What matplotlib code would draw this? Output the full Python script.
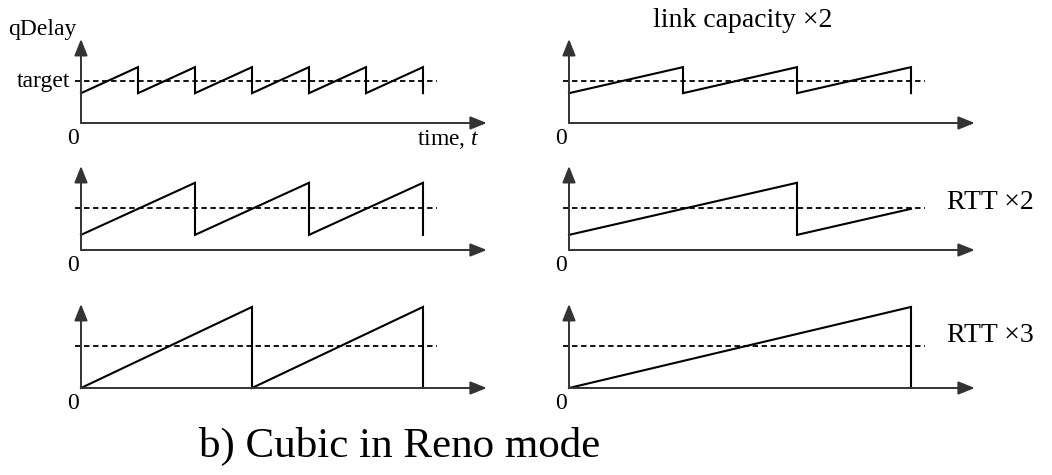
import matplotlib
matplotlib.use('Agg')
import matplotlib.pyplot as plt

plt.rcParams['font.family'] = ['Liberation Serif', 'DejaVu Serif']
plt.rcParams['mathtext.fontset'] = 'custom'
plt.rcParams['mathtext.rm'] = 'Liberation Serif'
plt.rcParams['mathtext.it'] = 'Liberation Serif:italic'

# ── data: time in units of one Reno cycle, qDelay relative to target ─────────
TARGET = 1.0

t_base     = [0, 1, 1, 2, 2, 3, 3, 4, 4, 5, 5, 6, 6]
q_base     = [0.71, 1.33, 0.71, 1.33, 0.71, 1.33, 0.71, 1.33, 0.71, 1.33, 0.71, 1.33, 0.71]

t_cap2     = [0, 2, 2, 4, 4, 6, 6]
q_cap2     = [0.71, 1.33, 0.71, 1.33, 0.71, 1.33, 0.71]

t_rtt2_l   = [0, 2, 2, 4, 4, 6, 6]
q_rtt2_l   = [0.36, 1.60, 0.36, 1.60, 0.36, 1.60, 0.36]

t_rtt2_r   = [0, 4, 4, 6]
q_rtt2_r   = [0.36, 1.60, 0.36, 0.98]

t_rtt3_l   = [0, 3, 3, 6, 6]
q_rtt3_l   = [0.0, 1.93, 0.0, 1.93, 0.0]

t_rtt3_r   = [0, 6, 6]
q_rtt3_r   = [0.0, 1.93, 0.0]

panels = [
    (t_base, q_base), (t_cap2, q_cap2),
    (t_rtt2_l, q_rtt2_l), (t_rtt2_r, q_rtt2_r),
    (t_rtt3_l, q_rtt3_l), (t_rtt3_r, q_rtt3_r),
]

# ── layout (pixels on a 1052x475 canvas) ─────────────────────────────────────
W, H = 1052, 475
PX_T, PX_Q = 57.0, 42.0          # pixels per time unit / per qDelay unit
X0 = [81, 569]                   # y-axis position per column
Y0 = [123, 250, 388]             # baseline per row (from top)
XLIM = (-0.5, 7.5)
YLIM = (-0.5, 2.3)

fig = plt.figure(figsize=(W / 100, H / 100), dpi=100)

axes = []
for r in range(3):
    for c in range(2):
        left = X0[c] + XLIM[0] * PX_T
        bottom = H - Y0[r] + YLIM[0] * PX_Q
        w = (XLIM[1] - XLIM[0]) * PX_T
        h = (YLIM[1] - YLIM[0]) * PX_Q
        ax = fig.add_axes([left / W, bottom / H, w / W, h / H])
        ax.set_xlim(*XLIM)
        ax.set_ylim(*YLIM)
        ax.axis('off')
        axes.append(ax)

arrow = dict(arrowstyle='-|>,head_length=1.0,head_width=0.4', mutation_scale=10,
             color='#333333', lw=1.4, shrinkA=0, shrinkB=0)

for ax, (t, q) in zip(axes, panels):
    # axes with arrowheads
    ax.annotate("", xy=(7.12, 0), xytext=(0, 0), arrowprops=arrow)
    ax.annotate("", xy=(0, 2.0), xytext=(0, 0), arrowprops=arrow)
    # target level
    ax.plot([-0.1, 6.25], [TARGET, TARGET], color='black', lw=1.3,
            linestyle=(0, (3, 2)), clip_on=False)
    # queue delay sawtooth
    ax.plot(t, q, color='black', lw=1.5, solid_joinstyle='miter', clip_on=False)
    ax.text(-0.14, -0.36, "0", ha='center', va='center', fontsize=17)

ax = axes[0]
ax.text(-0.08, 2.1, "qDelay", ha='right', va='baseline', fontsize=17)
ax.text(-0.19, TARGET, "target", ha='right', va='center', fontsize=17)
ax.text(7.0, -0.4, "time, $t$", ha='right', va='center', fontsize=17)

axes[1].text(3.04, 2.45, "link capacity ×2", ha='center', va='center', fontsize=20)
axes[3].text(6.63, 1.12, "RTT ×2", ha='left', va='center', fontsize=20)
axes[5].text(6.63, 1.26, "RTT ×3", ha='left', va='center', fontsize=20)

fig.text(400 / W, 1 - 446 / H, "b) Cubic in Reno mode", ha='center', va='center',
         fontsize=31)

fig.savefig("out.png", dpi=100)
